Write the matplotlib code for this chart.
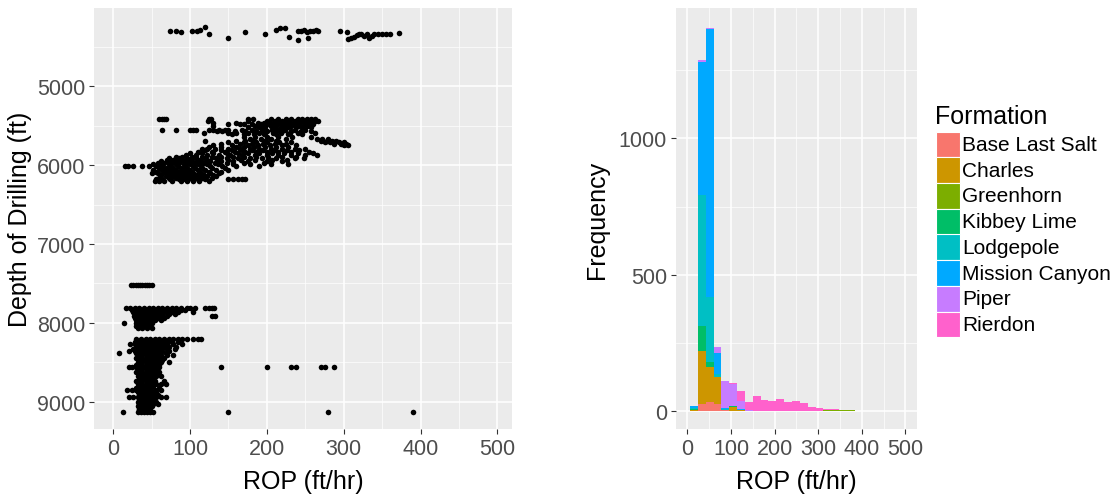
import matplotlib.pyplot as plt
from matplotlib.patches import Rectangle
from matplotlib.ticker import FixedLocator
import numpy as np

plt.rcParams['font.family'] = ['Liberation Sans', 'DejaVu Sans']

# ---- scatter: ROP vs depth ----
top_rop = [74, 82, 88, 103, 109, 113, 119, 124, 149, 171, 198, 212, 217, 224, 229,
           240, 244, 248, 252, 256, 260, 264, 267, 240, 254, 295, 304,
           306, 310, 313, 317, 320, 323, 326, 330, 333, 337, 340, 345, 350, 355, 360, 372]
top_depth = [4294, 4294, 4306, 4294, 4294, 4281, 4251, 4336, 4391, 4306, 4336, 4281, 4264, 4264, 4378,
             4300, 4296, 4290, 4306, 4300, 4296, 4290, 4300, 4408, 4391, 4294, 4306,
             4400, 4390, 4370, 4350, 4340, 4330, 4360, 4330, 4390, 4360, 4340, 4330, 4335, 4335, 4335, 4320]

mid_depth = [5420, 5440, 5460, 5480, 5500, 5520, 5550, 5570, 5590, 5610, 5640, 5670, 5690, 5710,
             5730, 5750, 5770, 5790, 5810, 5830, 5850, 5870, 5890, 5910, 5930, 5950, 5970, 5990,
             6015, 6040, 6060, 6080, 6100, 6120, 6140, 6160, 6180, 6200]
mid_rop = [
    [60, 63, 66, 68, 124, 127, 175, 182, 205, 215, 225, 232, 240, 246, 252, 258, 263],
    [123, 176, 200, 210, 220, 228, 236, 244, 250, 256, 262, 266],
    [130, 160, 188, 196, 204, 214, 222, 230, 238, 248, 255],
    [150, 165, 170, 180, 192, 200, 208, 218, 226, 234, 242, 250, 260],
    [130, 185, 195, 205, 212, 222, 232, 240, 252],
    [175, 190, 198, 210, 218, 228, 238, 246, 258],
    [64, 82, 100, 104, 108, 125, 130, 138, 145, 150, 168, 180, 194, 206, 214, 224, 236, 250],
    [135, 142, 158, 172, 186, 200, 210, 220, 232, 244, 258],
    [118, 150, 160, 176, 190, 198, 208, 218, 230, 240, 262],
    [155, 170, 183, 196, 212, 228, 246],
    [170, 185, 200, 215, 233, 258],
    [178, 192, 205, 225, 265, 272, 280],
    [120, 160, 172, 182, 196, 212, 270, 278, 285, 290],
    [150, 170, 186, 200, 216, 232, 276, 282, 288, 294, 300],
    [140, 165, 180, 195, 210, 225, 288, 296, 303],
    [130, 155, 175, 188, 204, 220, 238, 300, 305],
    [125, 140, 160, 170, 183, 197, 212, 228],
    [115, 122, 132, 150, 165, 178, 190, 205, 220, 236, 250],
    [120, 140, 155, 168, 180, 195, 210, 226, 242],
    [110, 128, 145, 158, 172, 186, 200, 215, 232, 255],
    [100, 115, 130, 148, 162, 176, 190, 206, 222, 240, 260],
    [95, 108, 122, 138, 152, 168, 184, 200, 214, 232, 250, 265],
    [82, 90, 102, 115, 128, 140, 156, 170, 186, 202, 220, 238],
    [72, 85, 96, 108, 120, 134, 148, 162, 178, 194, 212, 236, 248],
    [70, 78, 88, 98, 110, 122, 136, 150, 166, 184, 206, 226],
    [62, 72, 82, 92, 102, 114, 126, 140, 156, 176, 200, 220],
    [58, 66, 76, 86, 96, 106, 118, 132, 148, 170, 196],
    [52, 62, 72, 82, 92, 100, 110, 122, 136, 156, 178, 205, 228],
    [15, 19, 26, 37, 46, 56, 64, 74, 84, 94, 104, 114, 126, 142, 160, 190],
    [60, 68, 78, 88, 96, 106, 116, 128, 146],
    [52, 64, 72, 82, 92, 100, 110, 120, 134, 150],
    [56, 66, 76, 86, 94, 102, 112, 124, 140],
    [50, 58, 70, 80, 88, 96, 104, 114, 126, 138],
    [62, 74, 84, 92, 100, 108, 118, 130],
    [68, 78, 88, 96, 104, 112, 122, 134],
    [60, 72, 82, 90, 98, 106, 116, 128],
    [56, 64, 74, 86, 94, 102, 110, 120, 150, 156, 162, 168, 172],
    [54, 60, 66, 76, 88, 96, 104, 112, 124],
]

deep_depth = [7525, 7810, 7835, 7860, 7885, 7910, 7935, 7960, 8000, 8040, 8070,
              8210, 8240, 8270, 8300, 8330, 8360, 8385, 8410, 8440, 8470, 8500, 8530,
              8560, 8590, 8620, 8650, 8680, 8710, 8740, 8770, 8800, 8830, 8850, 8880,
              8910, 8940, 8970, 9000, 9030, 9060, 9090, 9110, 9130]
deep_rop = [
    [23, 26, 29, 32, 35, 38, 41, 44, 47, 50],
    [16, 22, 28, 34, 40, 46, 52, 58, 64, 70, 76, 82, 88, 96, 100, 106, 120, 124, 128, 131],
    [25, 30, 36, 42, 48, 54, 60, 66, 72, 80, 88, 94],
    [26, 32, 38, 44, 50, 56, 62, 68, 76, 84, 104],
    [28, 34, 40, 46, 52, 58, 64, 72, 80],
    [27, 33, 39, 45, 51, 57, 63, 70, 128, 132],
    [28, 34, 40, 46, 52, 58, 66],
    [30, 36, 42, 48, 54, 62],
    [14, 30, 35, 40, 45, 50],
    [30, 36, 42, 48],
    [32, 38, 44, 50],
    [30, 36, 42, 48, 54, 60, 66, 72, 78, 84, 90, 96, 104, 110, 114],
    [28, 34, 40, 46, 52, 58, 64, 70, 76, 84],
    [22, 28, 34, 40, 46, 52, 58, 64, 70, 78, 90],
    [30, 36, 42, 48, 54, 60, 66, 72, 82],
    [26, 32, 38, 44, 50, 56, 62, 70, 80],
    [20, 28, 34, 40, 46, 52, 58, 64, 72],
    [8, 30, 36, 42, 48, 54, 60, 68],
    [32, 38, 44, 50, 56, 62, 70, 78],
    [30, 36, 42, 48, 54, 60, 66],
    [34, 40, 46, 52, 58, 64],
    [32, 38, 44, 50, 56, 62, 72],
    [30, 36, 42, 48, 54, 60],
    [20, 24, 30, 36, 42, 48, 54, 60, 140, 200, 232, 238, 270, 276, 287],
    [32, 38, 44, 50, 56],
    [30, 36, 42, 48, 54, 60],
    [34, 40, 46, 52, 58],
    [32, 38, 44, 50, 56, 62],
    [34, 40, 46, 52],
    [30, 36, 42, 48, 54, 66],
    [32, 38, 44, 50, 56, 62, 68],
    [34, 40, 46, 52],
    [30, 36, 42, 48, 60],
    [18, 24, 30, 36, 42, 48, 54, 62],
    [32, 38, 44, 50, 56],
    [34, 40, 46, 52, 58],
    [20, 26, 32, 38, 44, 50, 56, 62, 68],
    [34, 40, 46, 52],
    [32, 38, 44, 50, 56],
    [34, 40, 46, 52, 58],
    [32, 38, 44, 50],
    [34, 40, 46],
    [33, 38, 43, 48],
    [13, 32, 36, 40, 44, 48, 52, 150, 280, 390],
]

# ---- histogram: ROP by formation ----
formations = ['Base Last Salt', 'Charles', 'Greenhorn', 'Kibbey Lime',
              'Lodgepole', 'Mission Canyon', 'Piper', 'Rierdon']
colors = ['#F8766D', '#CD9600', '#7CAE00', '#00BE67',
          '#00BFC4', '#00A9FF', '#C77CFF', '#FF61CC']
bin_edges = [6, 24, 42, 60, 78, 96, 114, 132, 150, 168, 186, 204, 222, 240,
             258, 276, 294, 312, 330, 348, 366, 384, 402, 420, 438, 456, 474, 492]
base_last_salt = [0, 27, 33, 25, 3, 2, 2, 0, 0, 0, 0, 0, 0, 0, 0, 0, 0, 0, 0, 0, 0, 0, 0, 0, 0, 0, 0]
charles = [5, 195, 129, 100, 2, 15, 3, 0, 1, 1, 1, 1, 1, 1, 1, 1, 1, 2, 2, 2, 1, 0, 0, 0, 0, 0, 0]
greenhorn = [0, 0, 0, 0, 0, 0, 0, 0, 0, 0, 0, 0, 0, 0, 0, 0, 1, 3, 3, 2, 2, 0, 0, 0, 0, 0, 0]
kibbey_lime = [4, 92, 18, 0, 0, 4, 1, 0, 0, 0, 0, 0, 0, 0, 0, 0, 0, 0, 0, 0, 0, 0, 0, 0, 0, 0, 0]
lodgepole = [3, 478, 239, 10, 2, 0, 0, 0, 0, 0, 0, 0, 0, 0, 0, 0, 0, 0, 0, 0, 0, 0, 0, 0, 0, 0, 0]
mission_canyon = [8, 488, 981, 80, 5, 0, 1, 0, 1, 0, 1, 0, 1, 0, 0, 0, 0, 0, 0, 0, 0, 0, 0, 0, 0, 0, 0]
piper = [0, 6, 6, 20, 100, 78, 30, 3, 0, 0, 0, 0, 0, 0, 0, 0, 0, 0, 0, 0, 0, 0, 0, 0, 0, 0, 0]
rierdon = [0, 0, 0, 0, 0, 5, 39, 32, 55, 40, 37, 44, 33, 38, 29, 14, 10, 3, 2, 1, 1, 2, 2, 2, 2, 2, 2]
counts = [base_last_salt, charles, greenhorn, kibbey_lime,
          lodgepole, mission_canyon, piper, rierdon]


def gg_style(ax):
    ax.set_facecolor('#EBEBEB')
    for s in ax.spines.values():
        s.set_visible(False)
    ax.grid(which='major', color='white', linewidth=1.1)
    ax.grid(which='minor', color='white', linewidth=0.5)
    ax.set_axisbelow(True)
    ax.tick_params(which='major', length=3.5, width=0.8, color='#333333',
                   labelcolor='#4D4D4D', labelsize=15.5, pad=3)
    ax.tick_params(which='minor', length=0)


fig = plt.figure(figsize=(11.18, 5.02), dpi=100)
W, H = 1118, 502

# left panel
ax1 = fig.add_axes([94.3 / W, 1 - 430 / H, 417.4 / W, 420.7 / H])
gg_style(ax1)
xs = list(top_rop)
ys = list(top_depth)
for d, row in zip(mid_depth, mid_rop):
    xs += row
    ys += [d] * len(row)
for d, row in zip(deep_depth, deep_rop):
    xs += row
    ys += [d] * len(row)
ax1.scatter(xs, ys, s=16, color='black', linewidths=0, zorder=3)
ax1.set_xlim(-24.7, 518.7)
ax1.set_ylim(9346, 4010)
ax1.xaxis.set_major_locator(FixedLocator([0, 100, 200, 300, 400, 500]))
ax1.xaxis.set_minor_locator(FixedLocator([50, 150, 250, 350, 450]))
ax1.yaxis.set_major_locator(FixedLocator([5000, 6000, 7000, 8000, 9000]))
ax1.yaxis.set_minor_locator(FixedLocator([4500, 5500, 6500, 7500, 8500]))
ax1.set_xlabel('ROP (ft/hr)', fontsize=18)
ax1.set_ylabel('Depth of Drilling (ft)', fontsize=18)
ax1.xaxis.label.set_va('center')
ax1.xaxis.set_label_coords(0.5, -0.124)
ax1.yaxis.label.set_va('center')
ax1.yaxis.set_label_coords(-0.178, 0.5)

# right panel
ax2 = fig.add_axes([676 / W, 1 - 430 / H, 240.7 / W, 420.7 / H])
gg_style(ax2)
lefts = bin_edges[:-1]
widths = np.diff(bin_edges)
bottom = np.zeros(len(lefts))
for name, col, c in zip(formations, colors, counts):
    ax2.bar(lefts, c, width=widths, bottom=bottom, align='edge',
            color=col, linewidth=0, label=name, zorder=3)
    bottom += np.array(c)
ax2.set_xlim(-26, 526)
ax2.set_ylim(-65, 1477)
ax2.xaxis.set_major_locator(FixedLocator([0, 100, 200, 300, 400, 500]))
ax2.xaxis.set_minor_locator(FixedLocator([50, 150, 250, 350, 450]))
ax2.yaxis.set_major_locator(FixedLocator([0, 500, 1000]))
ax2.yaxis.set_minor_locator(FixedLocator([250, 750, 1250]))
ax2.set_xlabel('ROP (ft/hr)', fontsize=18)
ax2.set_ylabel('Frequency', fontsize=18)
ax2.xaxis.label.set_va('center')
ax2.xaxis.set_label_coords(0.5, -0.124)
ax2.yaxis.label.set_va('center')
ax2.yaxis.set_label_coords(-0.33, 0.5)

# legend
fig.text(935 / W, 1 - 117 / H, 'Formation', fontsize=18, va='center', ha='left')
key_top = 132.7
key_h = 25.7
for i, (name, col) in enumerate(zip(formations, colors)):
    y0 = key_top + i * key_h
    fig.add_artist(Rectangle((936 / W, 1 - (y0 + key_h) / H), 24 / W, key_h / H,
                             transform=fig.transFigure, facecolor=col,
                             edgecolor='white', linewidth=0.8))
    fig.text(962 / W, 1 - (y0 + key_h / 2) / H, name, fontsize=15,
             va='center', ha='left')

fig.savefig('out.png', dpi=100)
